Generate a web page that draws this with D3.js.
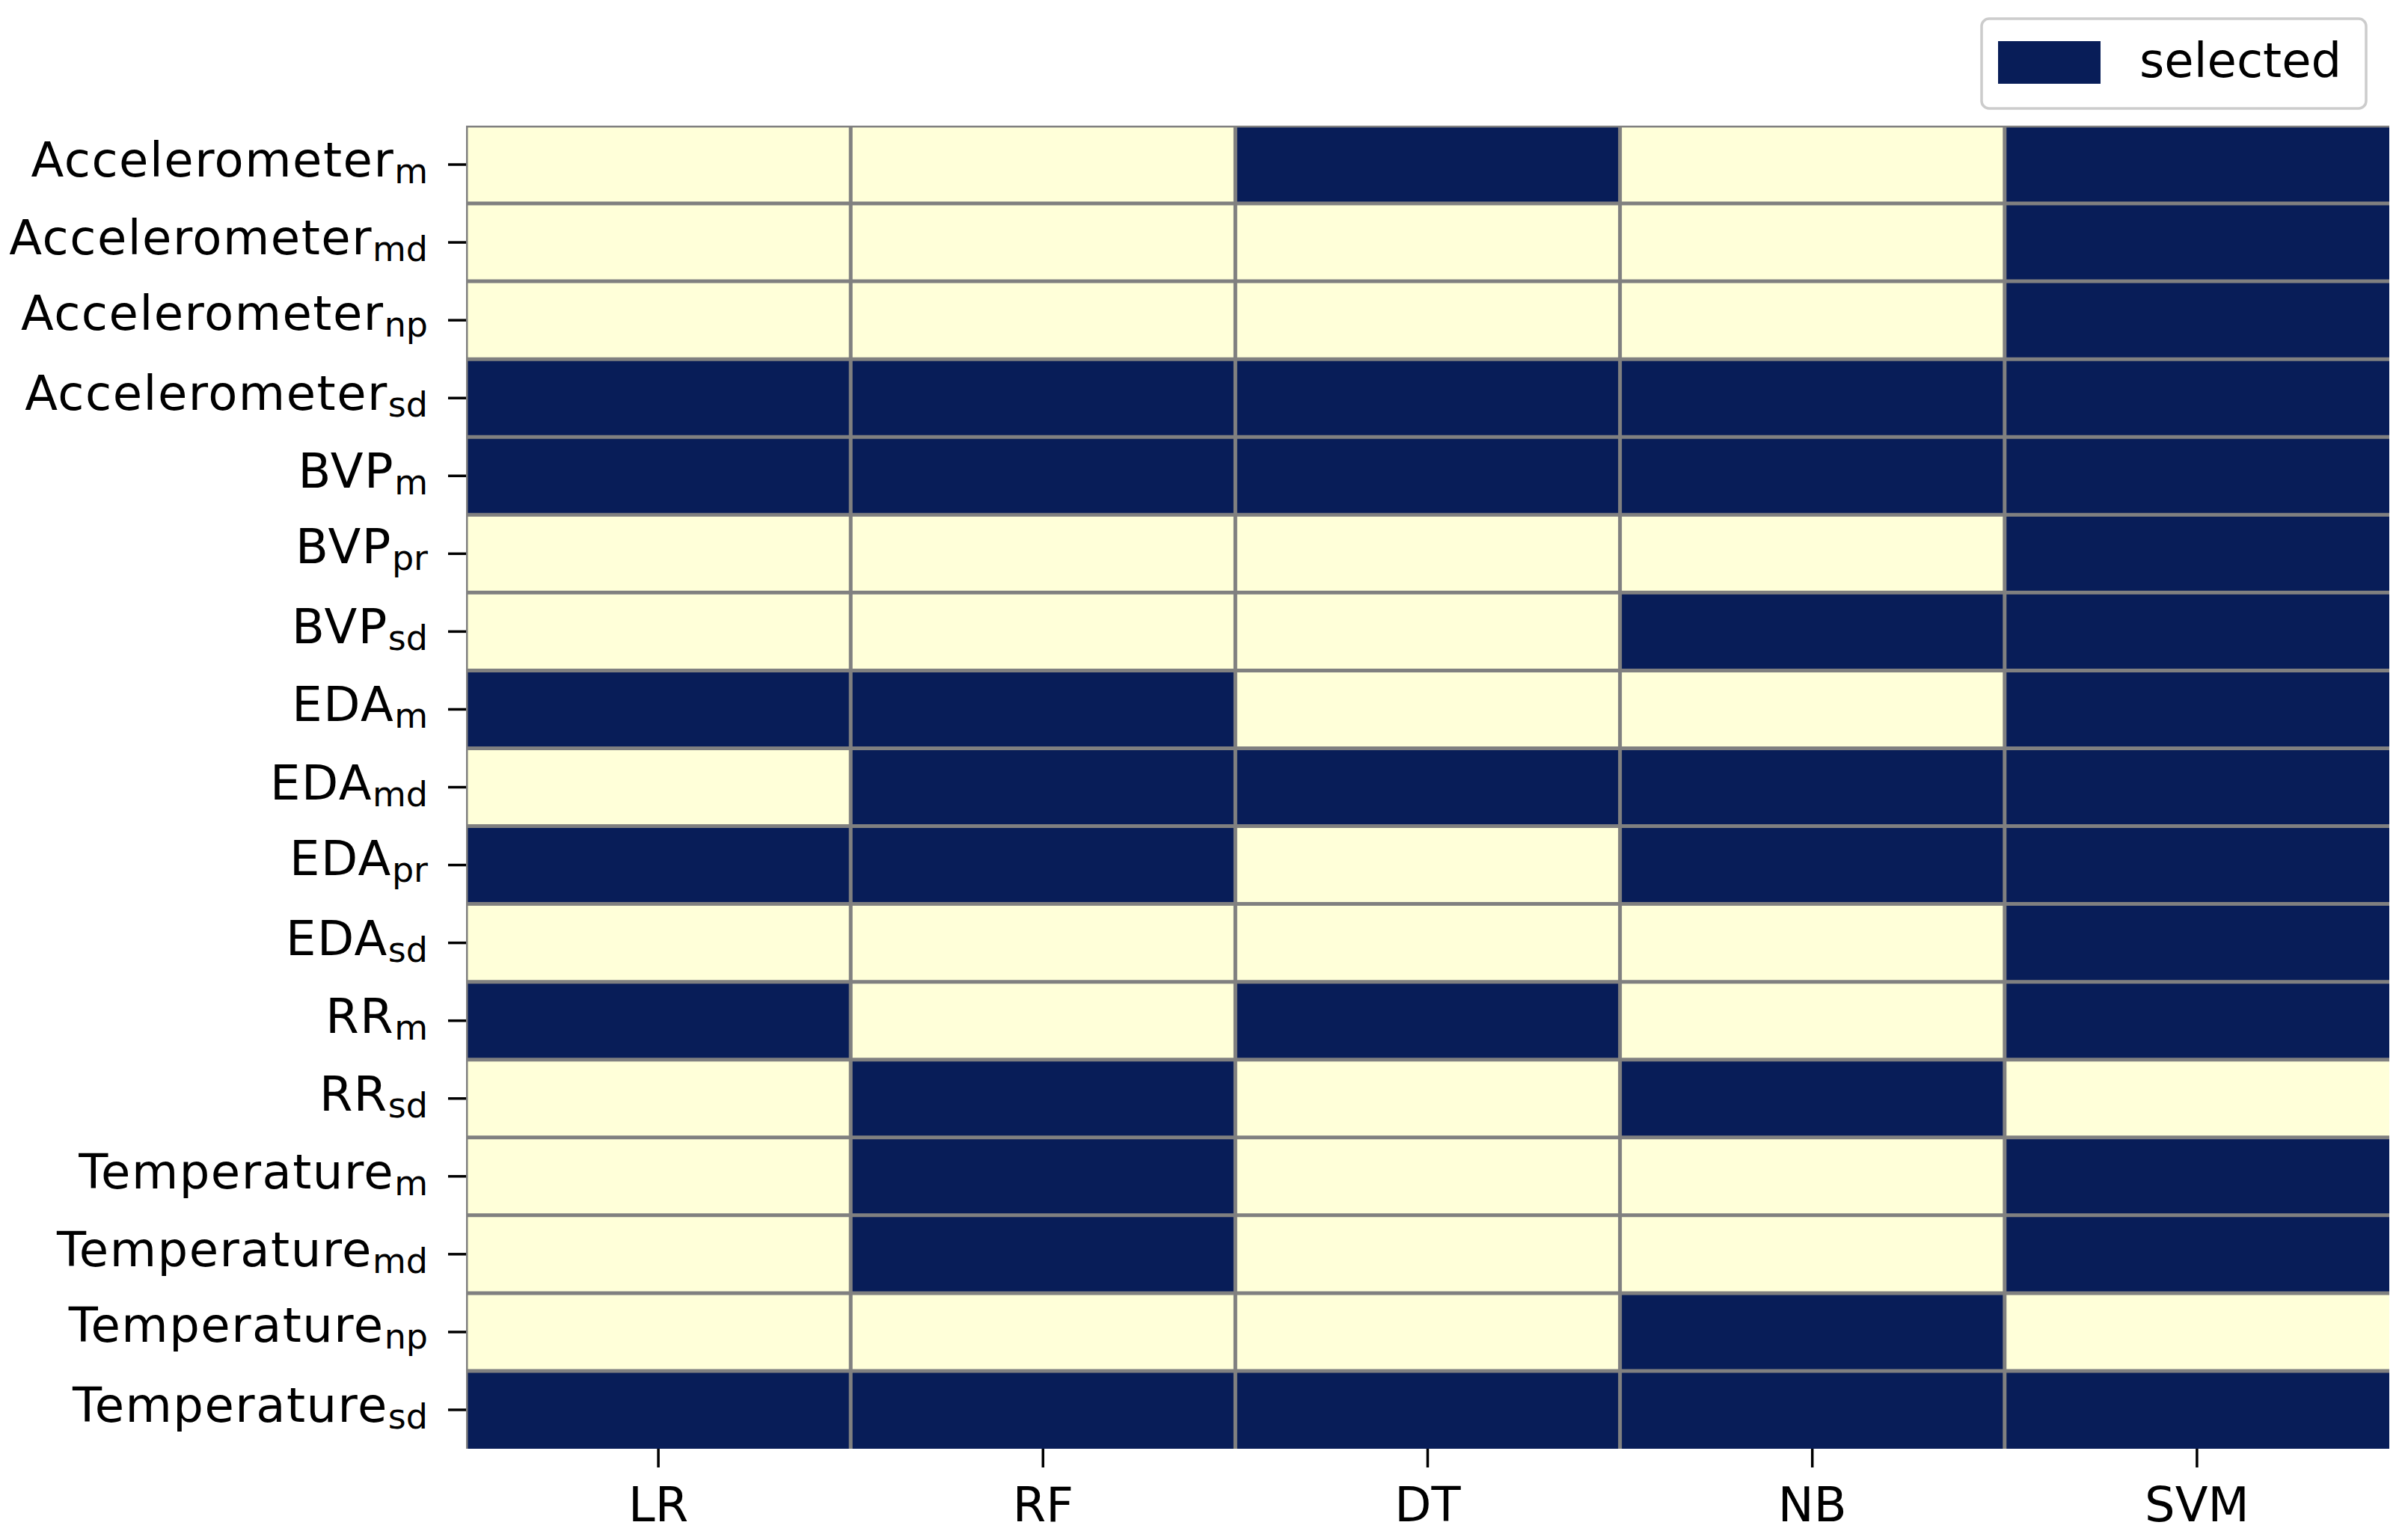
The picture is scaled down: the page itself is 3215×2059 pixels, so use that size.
<!DOCTYPE html>
<html>
<head>
<meta charset="utf-8">
<script src="https://cdn.jsdelivr.net/npm/d3@7"></script>
<style>
  html, body { margin: 0; padding: 0; background: #ffffff; }
  svg { display: block; }
  text { font-family: "DejaVu Sans", sans-serif; fill: #000; }
</style>
</head>
<body>
<script>
// ---- data ----
const models = ["LR", "RF", "DT", "NB", "SVM"];
const featureNames = ["Accelerometer", "Accelerometer", "Accelerometer", "Accelerometer",
  "BVP", "BVP", "BVP", "EDA", "EDA", "EDA", "EDA", "RR", "RR",
  "Temperature", "Temperature", "Temperature", "Temperature"];
const featureSubs = ["m", "md", "np", "sd", "m", "pr", "sd", "m", "md", "pr", "sd", "m", "sd",
  "m", "md", "np", "sd"];
// 1 = selected, 0 = not selected; columns LR, RF, DT, NB, SVM
const selectedLR  = [0,0,0,1,1,0,0,1,0,1,0,1,0,0,0,0,1];
const selectedRF  = [0,0,0,1,1,0,0,1,1,1,0,0,1,1,1,0,1];
const selectedDT  = [1,0,0,1,1,0,0,0,1,0,0,1,0,0,0,0,1];
const selectedNB  = [0,0,0,1,1,0,1,0,1,1,0,0,1,0,0,1,1];
const selectedSVM = [1,1,1,1,1,1,1,1,1,1,1,1,0,1,1,0,1];
const legendLabel = "selected";

const columns = [selectedLR, selectedRF, selectedDT, selectedNB, selectedSVM];
const rowKeys = featureNames.map((d, i) => i);
const cells = [];
columns.forEach((col, ci) => col.forEach((v, ri) => cells.push({ model: models[ci], row: ri, v })));

// ---- layout ----
const W = 3215, H = 2059;
const x0 = 623, x1 = 3194, y0 = 168, y1 = 1937;
const FS = 64;
const colorScale = d3.scaleOrdinal().domain([0, 1]).range(["#ffffd9", "#081d58"]);

const svg = d3.select("body").append("svg").attr("width", W).attr("height", H);

const x = d3.scaleBand().domain(models).range([x0, x1]).padding(0);
const y = d3.scaleBand().domain(rowKeys).range([y0, y1]).padding(0);

svg.append("defs").append("clipPath").attr("id", "plotclip")
  .append("rect").attr("x", x0).attr("y", y0).attr("width", x1 - x0).attr("height", y1 - y0);

// cells
svg.append("g").selectAll("rect").data(cells).join("rect")
  .attr("x", d => x(d.model))
  .attr("y", d => y(d.row))
  .attr("width", x.bandwidth())
  .attr("height", y.bandwidth())
  .attr("fill", d => colorScale(d.v))
  .attr("shape-rendering", "crispEdges");

// cell edges (gray)
const grid = svg.append("g").attr("clip-path", "url(#plotclip)")
  .attr("stroke", "#808080").attr("stroke-width", 5);
grid.selectAll("line.v").data(models).join("line").attr("class", "v")
  .attr("x1", d => x(d)).attr("x2", d => x(d)).attr("y1", y0).attr("y2", y1);
grid.selectAll("line.h").data(rowKeys).join("line").attr("class", "h")
  .attr("x1", x0).attr("x2", x1).attr("y1", d => y(d)).attr("y2", d => y(d));

// left axis
const yAxis = svg.append("g").attr("transform", `translate(${x0},0)`)
  .call(d3.axisLeft(y).tickSize(24).tickPadding(27).tickFormat(() => ""));
yAxis.select(".domain").remove();
yAxis.selectAll(".tick line").attr("stroke", "#000").attr("stroke-width", 3.5);
yAxis.selectAll(".tick text").each(function (d) {
  const t = d3.select(this);
  const hasDesc = featureSubs[d].indexOf("p") >= 0;
  t.attr("font-size", FS).attr("font-family", "DejaVu Sans, sans-serif")
   .attr("fill", "#000").attr("dy", hasDesc ? 13 : 16).text(null);
  t.append("tspan").attr("letter-spacing", 1.5).text(featureNames[d]);
  t.append("tspan").attr("font-size", 46).attr("dy", 9).text(featureSubs[d]);
});

// bottom axis
const xAxis = svg.append("g").attr("transform", `translate(0,${y1})`)
  .call(d3.axisBottom(x).tickSize(25).tickPadding(27));
xAxis.select(".domain").remove();
xAxis.selectAll(".tick line").attr("stroke", "#000").attr("stroke-width", 3.5);
xAxis.selectAll(".tick text").attr("font-size", FS)
  .attr("font-family", "DejaVu Sans, sans-serif").attr("fill", "#000");

// legend
const lg = svg.append("g");
lg.append("rect").attr("x", 2649).attr("y", 25).attr("width", 514).attr("height", 120)
  .attr("rx", 10).attr("fill", "#fff").attr("fill-opacity", 0.8)
  .attr("stroke", "#cccccc").attr("stroke-width", 3.5);
lg.append("rect").attr("x", 2671).attr("y", 55).attr("width", 137).attr("height", 57)
  .attr("fill", colorScale(1));
lg.append("text").attr("x", 2860).attr("y", 103).attr("font-size", FS).text(legendLabel);
</script>
</body>
</html>
